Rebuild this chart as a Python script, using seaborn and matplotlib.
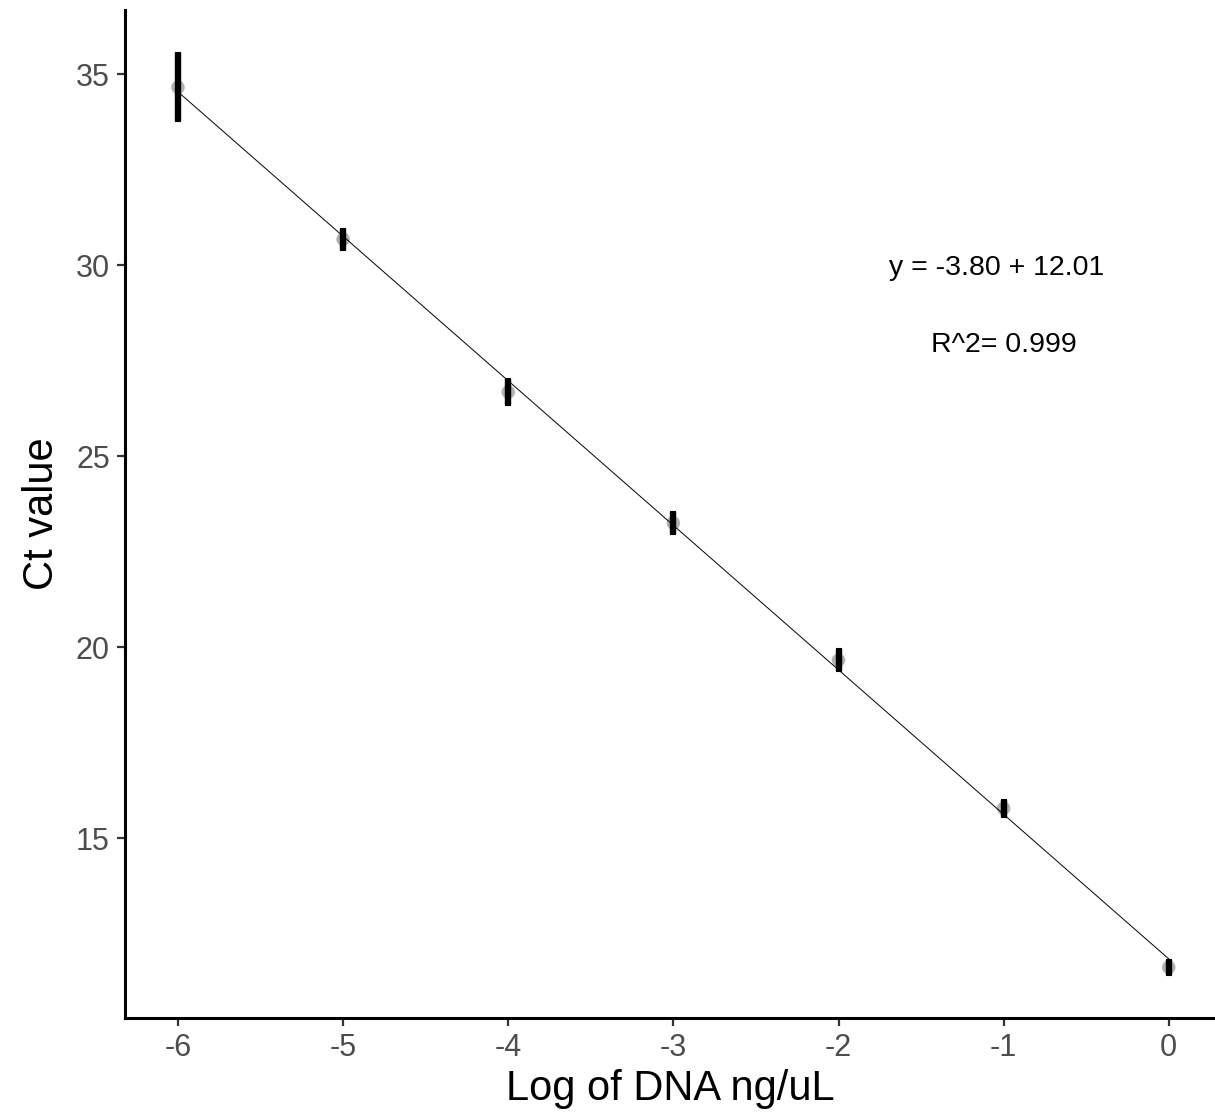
import numpy as np
import pandas as pd
import matplotlib
matplotlib.use("Agg")
import matplotlib.pyplot as plt
import seaborn as sb

# data
log_dna = [-6, -5, -4, -3, -2, -1, 0]
ct_mean = [34.66, 30.68, 26.68, 23.25, 19.66, 15.78, 11.62]
ct_err = [0.89, 0.27, 0.34, 0.29, 0.29, 0.22, 0.20]
eq_text = "y = -3.80 + 12.01"
r2_text = "R^2= 0.999"

df = pd.DataFrame({"log_dna": log_dna, "ct": ct_mean, "err": ct_err})

sb.set_style("ticks")
plt.rcParams["font.family"] = ["Liberation Sans", "DejaVu Sans"]
plt.rcParams["axes.unicode_minus"] = False

fig = plt.figure(figsize=(12.15, 11.2), dpi=100)
ax = fig.add_axes([0.103, 0.091, 0.897, 0.900])

# points
sb.scatterplot(data=df, x="log_dna", y="ct", ax=ax, color="grey", alpha=0.6,
               s=95, edgecolor="none", zorder=2)

# error bars
ax.errorbar(df["log_dna"], df["ct"], yerr=df["err"], fmt="none", ecolor="black",
            elinewidth=4.6, capsize=2.4, capthick=1.5, zorder=3)

# regression line
sb.regplot(data=df, x="log_dna", y="ct", ax=ax, scatter=False, ci=None,
           truncate=True, line_kws={"color": "black", "linewidth": 0.7, "zorder": 4})

ax.text(-1.04, 29.92, eq_text, fontsize=20.5, ha="center", va="center", color="black")
ax.text(-1.0, 27.9, r2_text, fontsize=20.5, ha="center", va="center", color="black")

ax.set_xlim(-6.32, 0.28)
ax.set_ylim(10.29, 36.68)
ax.set_xticks(log_dna)
ax.set_yticks([15, 20, 25, 30, 35])
ax.set_xlabel("Log of DNA ng/uL", fontsize=30, labelpad=4, color="black")
ax.set_ylabel("Ct value", fontsize=30, labelpad=10, color="black")
ax.tick_params(axis="both", labelsize=22, labelcolor="#4D4D4D", color="#333333",
               length=6, width=1.6, pad=5)

sb.despine(ax=ax)
for side in ["left", "bottom"]:
    ax.spines[side].set_linewidth(2.2)
    ax.spines[side].set_color("black")

fig.savefig("out.png", dpi=100)
